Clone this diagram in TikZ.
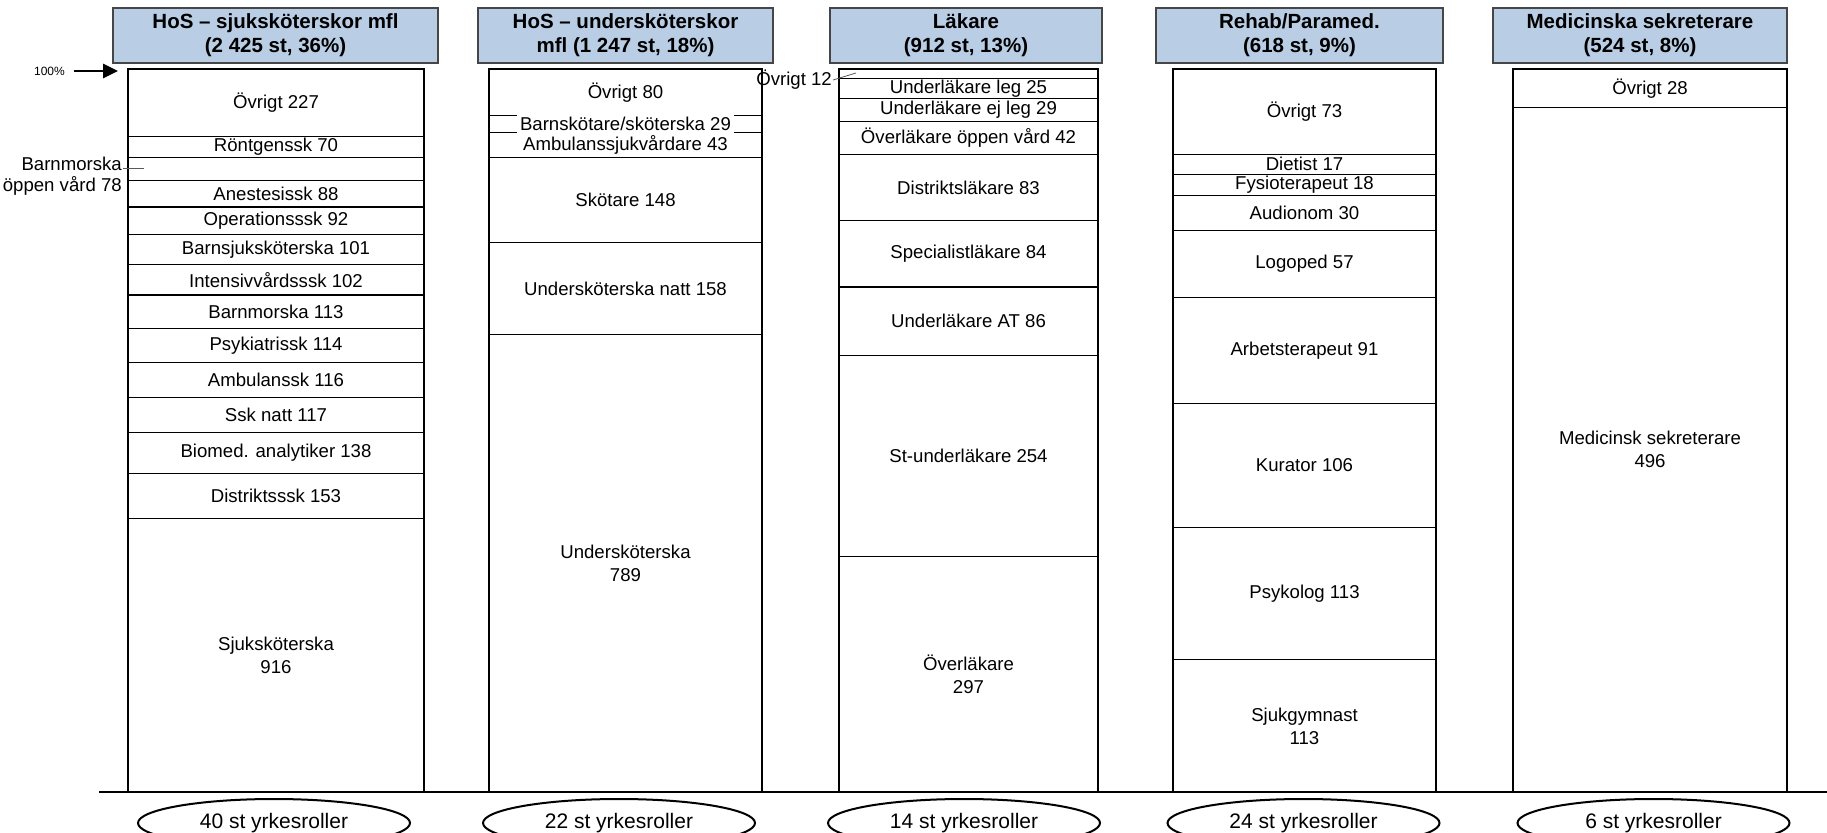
\documentclass[tikz,border=0pt]{standalone}
\usepackage{fontspec}
\setmainfont{Liberation Sans}
\usetikzlibrary{arrows.meta,shapes.geometric}
\definecolor{hdrfill}{RGB}{185,205,229}
\definecolor{hdrline}{RGB}{70,70,70}
\tikzset{
  hdr/.style={draw=hdrline, line width=1.3pt, fill=hdrfill, align=center, inner sep=0pt,
    font=\fontsize{20.5}{24}\selectfont\bfseries},
  segline/.style={draw=black, line width=1.1pt},
  txt/.style={font=\fontsize{18.6}{23}\selectfont, align=center, inner sep=1pt},
  role/.style={ellipse, draw=black, line width=2pt, inner sep=0pt,
    minimum width=272pt, minimum height=48pt, font=\fontsize{21}{24}\selectfont},
  leader/.style={draw=black!65, line width=0.8pt},
  pctarrow/.style={line width=2.6pt, -{Triangle[length=15pt,width=14pt]}, shorten <=8pt},
}
\begin{document}
\begin{tikzpicture}[x=1pt,y=-1pt]
\useasboundingbox (0,0) rectangle (1827,832);

% headers
\node[hdr, minimum width=325pt, minimum height=55pt] (h1) at (275.5,35.5) {HoS -- sjuksköterskor mfl\\(2 425 st, 36\%)};
\node[hdr, minimum width=295pt, minimum height=55pt] (h2) at (625.5,35.5) {HoS -- undersköterskor\\mfl (1 247 st, 18\%)};
\node[hdr, minimum width=272pt, minimum height=55pt] (h3) at (966,35.5) {Läkare\\(912 st, 13\%)};
\node[hdr, minimum width=287pt, minimum height=55pt] (h4) at (1299.5,35.5) {Rehab/Paramed.\\(618 st, 9\%)};
\node[hdr, minimum width=294pt, minimum height=55pt] (h5) at (1640,35.5) {Medicinska sekreterare\\(524 st, 8\%)};

% column 1
\foreach \a/\b/\t [count=\i] in {0/227/{Övrigt 227},227/297/{Röntgenssk 70},297/375/{},375/463/{Anestesissk 88},463/555/{Operationsssk 92},555/656/{Barnsjuksköterska 101},656/758/{Intensivvårdsssk 102},758/871/{Barnmorska 113},871/985/{Psykiatrissk 114},985/1101/{Ambulanssk 116},1101/1218/{Ssk natt 117},1218/1356/{Biomed. analytiker 138},1356/1509/{Distriktsssk 153},1509/2425/{Sjuksköterska\\916}}{
  \pgfmathsetmacro\ya{69+(\a/2425)*723}
  \pgfmathsetmacro\yb{69+(\b/2425)*723}
  \draw[segline] (128,\ya) rectangle (424,\yb);
  \node[txt] (a\i) at (276,{(\ya+\yb)/2}) {\t};
}

% column 2
\foreach \a/\b/\t [count=\i] in {0/80/{Övrigt 80},80/109/{},109/152/{Ambulanssjukvårdare 43},152/300/{Skötare 148},300/458/{Undersköterska natt 158},458/1247/{Undersköterska\\789}}{
  \pgfmathsetmacro\ya{69+(\a/1247)*723}
  \pgfmathsetmacro\yb{69+(\b/1247)*723}
  \draw[segline] (489,\ya) rectangle (762,\yb);
  \node[txt] (b\i) at (625.5,{(\ya+\yb)/2}) {\t};
}
\node[txt, fill=white, inner xsep=3pt, minimum height=21pt] (b2lab) at (625.5,123.8) {Barnskötare/sköterska 29};

% column 3
\foreach \a/\b/\t [count=\i] in {0/12/{},12/37/{Underläkare leg 25},37/66/{Underläkare ej leg 29},66/108/{Överläkare öppen vård 42},108/191/{Distriktsläkare 83},191/275/{Specialistläkare 84},275/361/{Underläkare AT 86},361/615/{St-underläkare 254},615/912/{Överläkare\\297}}{
  \pgfmathsetmacro\ya{69+(\a/912)*723}
  \pgfmathsetmacro\yb{69+(\b/912)*723}
  \draw[segline] (839,\ya) rectangle (1098,\yb);
  \node[txt] (c\i) at (968.5,{(\ya+\yb)/2}) {\t};
}

% column 4
\foreach \a/\b/\t [count=\i] in {0/73/{Övrigt 73},73/90/{Dietist 17},90/108/{Fysioterapeut 18},108/138/{Audionom 30},138/195/{Logoped 57},195/286/{Arbetsterapeut 91},286/392/{Kurator 106},392/505/{Psykolog 113},505/618/{Sjukgymnast\\113}}{
  \pgfmathsetmacro\ya{69+(\a/618)*723}
  \pgfmathsetmacro\yb{69+(\b/618)*723}
  \draw[segline] (1173,\ya) rectangle (1436,\yb);
  \node[txt] (d\i) at (1304.5,{(\ya+\yb)/2}) {\t};
}

% column 5
\foreach \a/\b/\t [count=\i] in {0/28/{Övrigt 28},28/524/{Medicinsk sekreterare\\496}}{
  \pgfmathsetmacro\ya{69+(\a/524)*723}
  \pgfmathsetmacro\yb{69+(\b/524)*723}
  \draw[segline] (1513,\ya) rectangle (1787,\yb);
  \node[txt] (e\i) at (1650,{(\ya+\yb)/2}) {\t};
}

% outside labels with leaders
\node[txt, anchor=east, align=right, font=\fontsize{18.6}{20.5}\selectfont] (bmlab) at (123,176) {Barnmorska\\öppen vård 78};
\coordinate (bmp) at (144,168);
\draw[leader] (bmlab.east |- bmp) -- (bmp);

\node[txt, anchor=east] (c1lab) at (833,80) {Övrigt 12};
\coordinate (c1p) at (856,73);
\draw[leader] (c1lab.east) -- (c1p);

% 100% arrow
\node[font=\fontsize{12}{14}\selectfont, anchor=east, inner sep=1pt] (pct) at (66,71) {100\%};
\coordinate (pcttip) at (118,71);
\draw[pctarrow] (pct) -- (pcttip);

% baseline
\coordinate (bl0) at (99,792);
\coordinate (bl1) at (1827,792);
\draw[line width=1.3pt] (bl0) -- (bl1);

% role ellipses
\node[role] (r1) at (274,823) {40 st yrkesroller};
\node[role] (r2) at (619,823) {22 st yrkesroller};
\node[role] (r3) at (964,823) {14 st yrkesroller};
\node[role] (r4) at (1303.5,823) {24 st yrkesroller};
\node[role] (r5) at (1653.5,823) {6 st yrkesroller};
\end{tikzpicture}
\end{document}
